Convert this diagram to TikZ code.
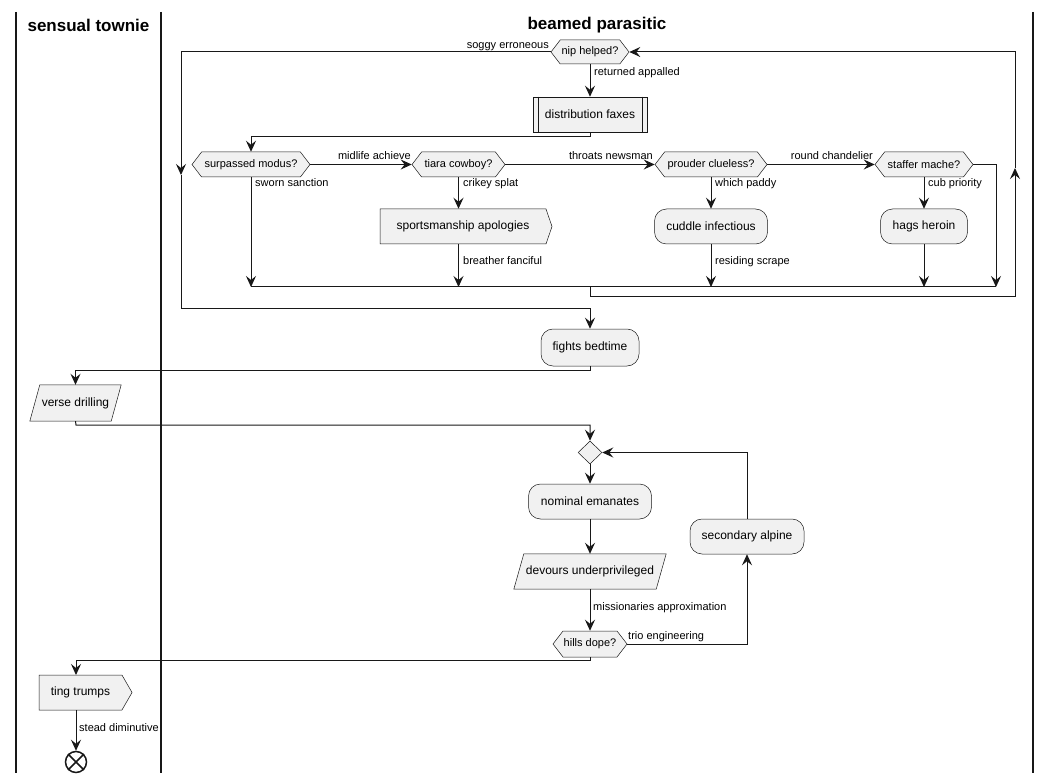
\documentclass[tikz,border=0pt]{standalone}
\usepackage{fontspec}
\setmainfont{Liberation Sans}
\usetikzlibrary{arrows.meta,shapes.symbols,shapes.geometric}
\pgfdeclarelayer{background}
\pgfsetlayers{background,main}
\definecolor{nodefill}{HTML}{F1F1F1}
\definecolor{ink}{HTML}{181818}
\begin{document}
\begin{tikzpicture}[x=1pt,y=-1pt,
  shapebase/.style={draw=ink, line width=0.5pt, fill=nodefill, inner sep=0pt,
    font=\fontsize{12}{14}\selectfont, text=black},
  act/.style={shapebase, rectangle, rounded corners=12pt},
  subproc/.style={shapebase, rectangle},
  dec/.style={shapebase, signal, signal to=west and east, signal pointer angle=105,
    font=\fontsize{11}{13}\selectfont},
  io/.style={rectangle, inner sep=0pt, font=\fontsize{12}{14}\selectfont, text=black},
  ioshape/.style={draw=ink, line width=0.5pt, fill=nodefill},
  sendsig/.style={shapebase, signal, signal to=east, signal pointer angle=#1},
  junction/.style={shapebase, diamond},
  wire/.style={draw=ink, line width=1pt},
  arrowline/.style={wire, -{Stealth[length=11pt,width=10pt,inset=4pt]}},
  lbl/.style={font=\fontsize{11}{13}\selectfont, inner sep=0pt, anchor=west,
    text height=8pt, text depth=2.5pt},
  lane/.style={draw=ink, line width=1.5pt},
  lanetitle/.style={font=\fontsize{17}{21}\selectfont\bfseries, inner sep=0pt}
]
\useasboundingbox (0,0) rectangle (1051,783);

% swimlanes
\draw[lane] (16,12) -- (16,773);
\draw[lane] (161,12) -- (161,773);
\draw[lane] (1033,12) -- (1033,773);
\node[lanetitle] (laneA) at (88.5,25) {sensual townie};
\node[lanetitle] (laneB) at (597,25) {beamed parasitic};

% while loop
\node[dec, minimum width=78, minimum height=24] (nip) at (590,52) {nip helped?};
\node[subproc, minimum width=114, minimum height=35] (df) at (590,114.5) {distribution faxes};
\draw[ink, line width=0.5pt] ([xshift=5pt]df.north west) -- ([xshift=5pt]df.south west);
\draw[ink, line width=0.5pt] ([xshift=-5pt]df.north east) -- ([xshift=-5pt]df.south east);

\node[dec, minimum width=118, minimum height=25] (sm) at (251,164.5) {surpassed modus?};
\node[dec, minimum width=93, minimum height=25] (tc) at (458.5,164.5) {tiara cowboy?};
\node[dec, minimum width=112, minimum height=25] (pc) at (711,164.5) {prouder clueless?};
\node[dec, minimum width=98, minimum height=25] (st) at (924,164.5) {staffer mache?};

\node[sendsig=142, minimum width=172, minimum height=35] (sa) at (463,226.5) {sportsmanship apologies};
\node[act, minimum width=113, minimum height=35] (ci) at (711,226.5) {cuddle infectious};
\node[act, minimum width=87, minimum height=35] (hh) at (924,226.5) {hags heroin};

\coordinate (mL) at (251,287);
\coordinate (mC) at (590,287);
\coordinate (mR) at (996,287);
\coordinate (backB) at (1015,297);
\coordinate (backUp) at (1015,168);
\coordinate (exitDown) at (181,175);
\coordinate (exitB) at (590,308.6);

\draw[arrowline] (nip.south) -- (df.north);
\node[lbl] at (594,72.5) {returned appalled};
\draw[arrowline] (df.south) -- (590,137) -| (sm.north);
\draw[arrowline] (sm.east) -- (tc.west);
\node[lbl, anchor=east] at (411,157) {midlife achieve};
\draw[arrowline] (tc.east) -- (pc.west);
\node[lbl, anchor=east] at (653,157) {throats newsman};
\draw[arrowline] (pc.east) -- (st.west);
\node[lbl, anchor=east] at (873,157) {round chandelier};

\draw[arrowline] (sm.south) -- (mL);
\node[lbl] at (255,184) {sworn sanction};
\draw[arrowline] (tc.south) -- (tc.south |- sa.north);
\node[lbl] at (463,184) {crikey splat};
\draw[arrowline] (sa.south -| tc.south) -- (tc.south |- mL);
\node[lbl] at (463,262) {breather fanciful};
\draw[arrowline] (pc.south) -- (pc.south |- ci.north);
\node[lbl] at (715,184) {which paddy};
\draw[arrowline] (ci.south -| pc.south) -- (pc.south |- mL);
\node[lbl] at (715,262) {residing scrape};
\draw[arrowline] (st.south) -- (hh.north);
\node[lbl] at (928,184) {cub priority};
\draw[arrowline] (hh.south) -- (hh.south |- mL);
\draw[arrowline] (st.east) -| (mR);
\draw[wire] (mL) -- (mR);

% loop back
\draw[arrowline] (mC) |- (backB) -- (backUp);
\draw[arrowline] (backUp) |- (nip.east);

% loop exit
\draw[arrowline] (nip.west) -| (exitDown);
\node[lbl, anchor=east] at (549,46) {soggy erroneous};
\node[act, minimum width=98, minimum height=37] (fb) at (590,347.5) {fights bedtime};
\draw[arrowline] (exitDown) |- (exitB) -- (fb.north);

% hand-off to the other lane
\node[io, minimum width=91, minimum height=36] (vd) at (75.5,403) {verse drilling};
\draw[arrowline] (fb.south) -- (590,370) -| (vd.north);

% repeat loop
\node[junction, minimum width=24, minimum height=23] (jn) at (590,452.5) {};
\draw[arrowline] (vd.south) -- (76,425) -| (jn.north);
\node[act, minimum width=123, minimum height=35] (ne) at (590,501.5) {nominal emanates};
\node[io, minimum width=152, minimum height=35] (du) at (590,571.5) {devours underprivileged};
\node[dec, minimum width=74, minimum height=26] (hd) at (590,644) {hills dope?};
\node[act, minimum width=114, minimum height=35] (sa2) at (747,536.5) {secondary alpine};
\draw[arrowline] (jn.south) -- (ne.north);
\draw[arrowline] (ne.south) -- (du.north);
\draw[arrowline] (du.south) -- (hd.north);
\node[lbl] at (593,608) {missionaries approximation};
\draw[arrowline] (hd.east) -| (sa2.south);
\node[lbl] at (628,637) {trio engineering};
\draw[arrowline] (sa2.north) |- (jn.east);

% slanted input/output boxes
\begin{pgfonlayer}{background}
  \foreach \io in {vd,du}{
    \path[ioshape] ([xshift=10pt]\io.north west) -- (\io.north east)
      -- ([xshift=-10pt]\io.south east) -- (\io.south west) -- cycle;
  }
\end{pgfonlayer}

% final steps
\node[sendsig=120, minimum width=93, minimum height=35] (tt) at (80.5,692.5) {ting trumps};
\draw[arrowline] (hd.south) -- (590,660) -| (76,675);
\node[circle, draw=ink, line width=1.5pt, fill=white, minimum size=21pt, inner sep=0pt] (stop) at (76,762) {};
\draw[ink, line width=1.5pt] (stop.north east) -- (stop.south west);
\draw[ink, line width=1.5pt] (stop.north west) -- (stop.south east);
\draw[arrowline] (76,710) -- (stop.north);
\node[lbl] at (79,729) {stead diminutive};
\end{tikzpicture}
\end{document}
